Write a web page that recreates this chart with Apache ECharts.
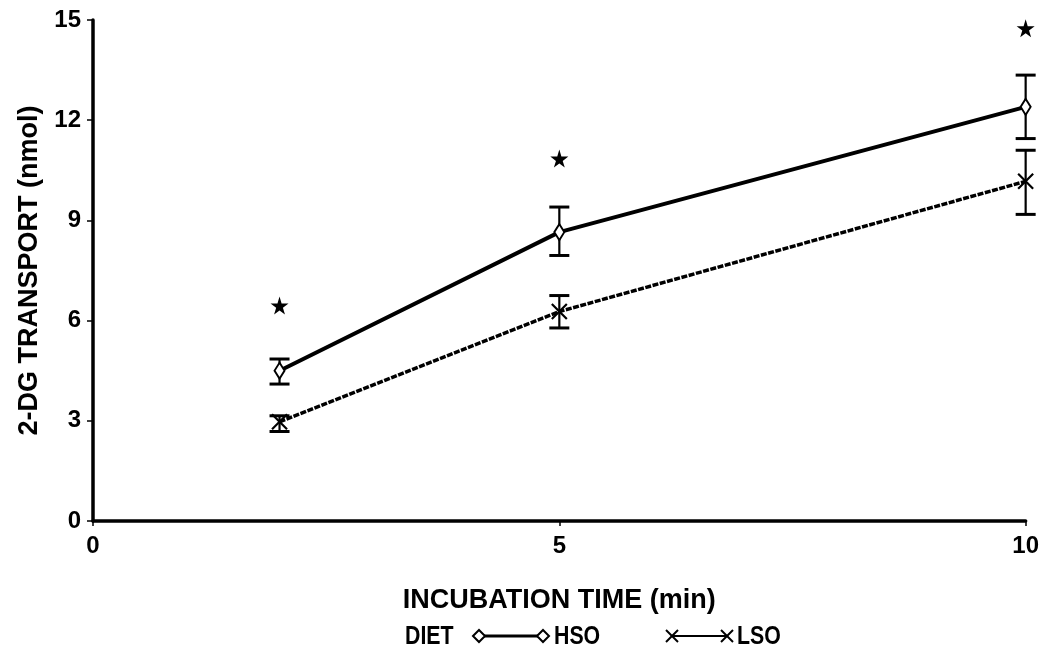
<!DOCTYPE html>
<html>
<head>
<meta charset="utf-8">
<script src="https://cdn.jsdelivr.net/npm/echarts@6/dist/echarts.min.js"></script>
<style>
html,body{margin:0;padding:0;background:#fff;}
#c{width:1042px;height:653px;}
</style>
</head>
<body>
<div id="c"></div>
<script>
const times = [2, 5, 10];
const hso = [4.5, 8.65, 12.4];
const hsoLow = [4.1, 7.95, 11.45];
const hsoHigh = [4.85, 9.4, 13.35];
const lso = [2.97, 6.27, 10.17];
const lsoLow = [2.68, 5.78, 9.18];
const lsoHigh = [3.15, 6.75, 11.1];
const stars = [6.45, 10.85, 14.75];
const xTicks = [0, 5, 10];
const yTicks = [0, 3, 6, 9, 12, 15];

const FONT = '"Liberation Sans", Arial, sans-serif';
const STAR = 'path://M50,0 L61,35 L98,35 L68,57 L79,91 L50,70 L21,91 L32,57 L2,35 L39,35 Z';
const XMARK = 'path://M0,0 L10,10 M10,0 L0,10';

const chart = echarts.init(document.getElementById('c'));

function errBar(params, api) {
  const x = api.value(0), lo = api.value(1), hi = api.value(2);
  const a = api.coord([x, lo]), b = api.coord([x, hi]);
  const cw = 10;
  const st = {stroke: '#000', lineWidth: 2.2};
  return {type: 'group', children: [
    {type: 'line', shape: {x1: a[0], y1: a[1], x2: b[0], y2: b[1]}, style: st},
    {type: 'line', shape: {x1: a[0]-cw, y1: a[1], x2: a[0]+cw, y2: a[1]}, style: {stroke:'#000', lineWidth: 3}},
    {type: 'line', shape: {x1: b[0]-cw, y1: b[1], x2: b[0]+cw, y2: b[1]}, style: {stroke:'#000', lineWidth: 3}}
  ]};
}

const legendY = 636;
function legText(txt, x) {
  return {type: 'text', x: x, y: legendY + 1, scaleX: 0.82,
    style: {text: txt, font: 'bold 26px ' + FONT, fill: '#000', verticalAlign: 'middle', align: 'left'}};
}
const option = {
  backgroundColor: '#fff',
  animation: false,
  grid: {left: 93, right: 11, top: 20, bottom: 132, containLabel: false},
  xAxis: {
    type: 'value', min: 0, max: 10, interval: 5,
    name: 'INCUBATION TIME (min)', nameLocation: 'middle', nameGap: 66,
    nameTextStyle: {fontFamily: FONT, fontWeight: 'bold', fontSize: 27, color: '#000'},
    axisLine: {show: true, lineStyle: {color: '#000', width: 3.5}},
    axisTick: {show: true, length: 5, lineStyle: {color: '#000', width: 1.5}},
    axisLabel: {fontFamily: FONT, fontWeight: 'bold', fontSize: 24, color: '#000', margin: 13,
      formatter: v => xTicks.includes(v) ? String(v) : ''},
    splitLine: {show: false}
  },
  yAxis: {
    type: 'value', min: 0, max: 15, interval: 3,
    name: '2-DG TRANSPORT (nmol)', nameLocation: 'middle', nameGap: 50,
    nameTextStyle: {fontFamily: FONT, fontWeight: 'bold', fontSize: 27, color: '#000'},
    axisLine: {show: true, lineStyle: {color: '#000', width: 3.5}},
    axisTick: {show: true, length: 6, lineStyle: {color: '#000', width: 1.5}},
    axisLabel: {fontFamily: FONT, fontWeight: 'bold', fontSize: 24, color: '#000', margin: 12,
      formatter: v => yTicks.includes(v) ? String(v) : ''},
    splitLine: {show: false}
  },
  series: [
    {
      name: 'HSO', type: 'line', data: times.map((t, i) => [t, hso[i]]),
      lineStyle: {color: '#000', width: 4},
      symbol: 'diamond', symbolSize: [10, 16],
      itemStyle: {color: '#fff', borderColor: '#000', borderWidth: 2},
      z: 3
    },
    {
      name: 'LSO', type: 'line', data: times.map((t, i) => [t, lso[i]]),
      lineStyle: {color: '#000', width: 3.5, type: [6, 1.5]},
      symbol: XMARK, symbolSize: 15,
      itemStyle: {color: 'none', borderColor: '#000', borderWidth: 2.2},
      z: 3
    },
    {
      type: 'custom', renderItem: errBar,
      data: times.map((t, i) => [t, hsoLow[i], hsoHigh[i]]), z: 2
    },
    {
      type: 'custom', renderItem: errBar,
      data: times.map((t, i) => [t, lsoLow[i], lsoHigh[i]]), z: 2
    },
    {
      type: 'scatter', data: times.map((t, i) => [t, stars[i]]),
      symbol: STAR, symbolSize: 18, itemStyle: {color: '#000', opacity: 1}
    }
  ],
  graphic: [
    legText('DIET', 405),
    {type: 'line', shape: {x1: 480, y1: legendY, x2: 542, y2: legendY}, style: {stroke: '#000', lineWidth: 3}},
    {type: 'polygon', shape: {points: [[473, legendY], [479, legendY-6], [485, legendY], [479, legendY+6]]}, style: {fill: '#fff', stroke: '#000', lineWidth: 2}},
    {type: 'polygon', shape: {points: [[537, legendY], [543, legendY-6], [549, legendY], [543, legendY+6]]}, style: {fill: '#fff', stroke: '#000', lineWidth: 2}},
    legText('HSO', 554),
    {type: 'line', shape: {x1: 672, y1: legendY, x2: 727, y2: legendY}, style: {stroke: '#000', lineWidth: 2}},
    {type: 'polyline', shape: {points: [[666, legendY-6], [678, legendY+6]]}, style: {stroke: '#000', lineWidth: 2}},
    {type: 'polyline', shape: {points: [[678, legendY-6], [666, legendY+6]]}, style: {stroke: '#000', lineWidth: 2}},
    {type: 'polyline', shape: {points: [[721, legendY-6], [733, legendY+6]]}, style: {stroke: '#000', lineWidth: 2}},
    {type: 'polyline', shape: {points: [[733, legendY-6], [721, legendY+6]]}, style: {stroke: '#000', lineWidth: 2}},
    legText('LSO', 737)
  ]
};
chart.setOption(option);
</script>
</body>
</html>
